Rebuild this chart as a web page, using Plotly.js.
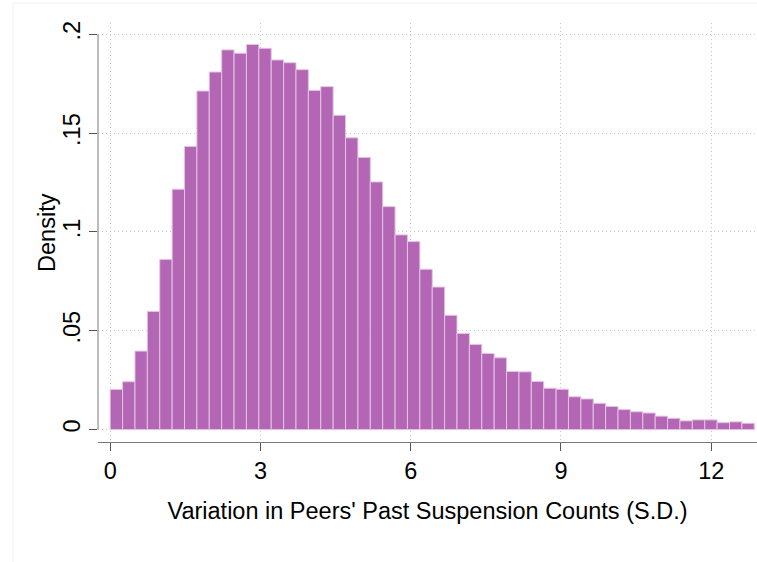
<!DOCTYPE html>
<html>
<head>
<meta charset="utf-8">
<script src="https://cdn.plot.ly/plotly-3.0.1.min.js"></script>
<style>html,body{margin:0;padding:0;background:#fff;}#chart{width:757px;height:562px;}</style>
</head>
<body>
<div id="chart"></div>
<script>
// Histogram data (density per bin)
var binStart = 0.0;
var binWidth = 0.2473;
var density = [0.0203, 0.0242, 0.0397, 0.0598, 0.0861, 0.1216, 0.1432, 0.1713, 0.1809, 0.1921,
               0.1904, 0.1948, 0.1929, 0.1870, 0.1856, 0.1821, 0.1716, 0.1735, 0.1590, 0.1476,
               0.1377, 0.1253, 0.1128, 0.0985, 0.0951, 0.0811, 0.0721, 0.0578, 0.0486, 0.0431,
               0.0385, 0.0363, 0.0294, 0.0292, 0.0243, 0.0209, 0.0204, 0.0166, 0.0155, 0.0133,
               0.0117, 0.0101, 0.0090, 0.0084, 0.0068, 0.0057, 0.0044, 0.0049, 0.0049, 0.0035,
               0.0039, 0.0032];
var xTickVals = [0, 3, 6, 9, 12];
var xTickText = ['0', '3', '6', '9', '12'];
var yTickVals = [0, 0.05, 0.1, 0.15, 0.2];
var yTickText = ['0', '.05', '.1', '.15', '.2'];
var xTitle = "Variation in Peers' Past Suspension Counts (S.D.)";
var yTitle = "Density";

var centers = density.map(function(_, i){ return binStart + (i + 0.5) * binWidth; });

var font = '"Liberation Sans", Arial, sans-serif';
var fs = 23.5;

var trace = {
  type: 'bar',
  x: centers,
  y: density,
  width: binWidth,
  marker: {color: '#b366b3', line: {color: '#e3c3e3', width: 1}},
  hoverinfo: 'skip'
};

var layout = {
  width: 757, height: 562,
  margin: {l: 98, r: 0, t: 23, b: 120, pad: 0},
  paper_bgcolor: '#ffffff',
  plot_bgcolor: '#ffffff',
  showlegend: false,
  bargap: 0,
  font: {family: font, color: '#000', size: fs},
  xaxis: {
    range: [-0.2435, 12.914],
    tickmode: 'array', tickvals: xTickVals, ticktext: xTickText,
    showgrid: true, gridcolor: '#c8c8c8', griddash: '1px,3px', gridwidth: 1,
    zeroline: false,
    showline: true, linecolor: '#7a7a7a', linewidth: 1,
    ticks: 'outside', ticklen: 8, tickcolor: '#555', tickwidth: 1,
    tickfont: {family: font, size: fs, color: '#000'},
    title: {text: xTitle, font: {family: font, size: fs, color: '#000'}, standoff: 19},
    automargin: false
  },
  yaxis: {
    range: [-0.00628, 0.2057],
    tickmode: 'array', tickvals: yTickVals, ticktext: yTickText,
    tickangle: -90,
    showgrid: true, gridcolor: '#c8c8c8', griddash: '1px,3px', gridwidth: 1,
    zeroline: false,
    showline: false,
    ticks: 'outside', ticklen: 8, tickcolor: '#555', tickwidth: 1,
    tickfont: {family: font, size: fs, color: '#000'},
    automargin: false
  },
  annotations: [
    {text: yTitle, xref: 'paper', yref: 'y', x: -0.0774, y: 0.1, textangle: -90,
     showarrow: false, xanchor: 'center', yanchor: 'middle',
     font: {family: font, size: fs, color: '#000'}}
  ],
  shapes: [
    {type: 'line', xref: 'paper', yref: 'y', x0: 0, x1: 0, y0: 0, y1: 0.2,
     line: {color: '#7a7a7a', width: 1}, layer: 'above'},
    {type: 'rect', xref: 'paper', yref: 'paper', x0: -0.129, x1: 1.2, y0: -0.5, y1: 1.0478,
     line: {color: '#f3f3f3', width: 1}, fillcolor: 'rgba(0,0,0,0)', layer: 'below'}
  ]
};

Plotly.newPlot('chart', [trace], layout, {staticPlot: true, displayModeBar: false});
</script>
</body>
</html>
